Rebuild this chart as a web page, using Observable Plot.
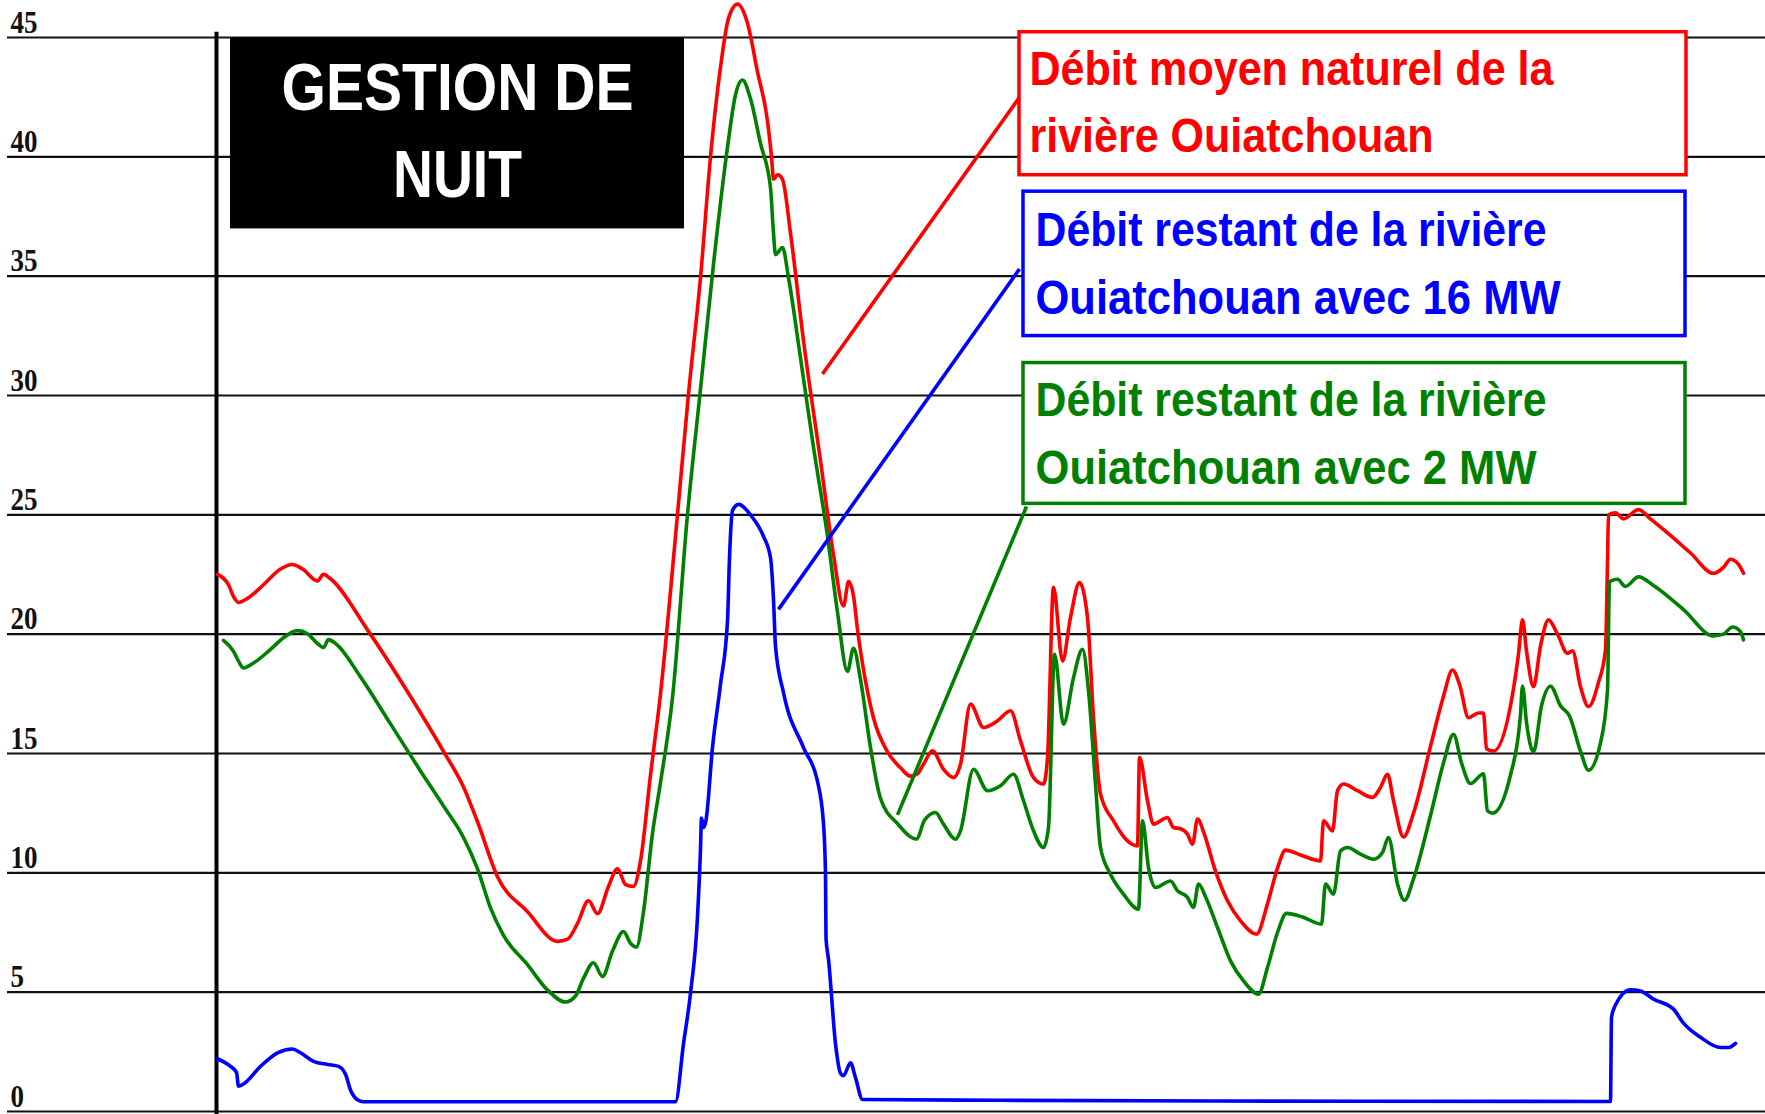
<!DOCTYPE html>
<html>
<head>
<meta charset="utf-8">
<script src="https://cdn.jsdelivr.net/npm/d3@7"></script>
<script src="https://cdn.jsdelivr.net/npm/@observablehq/plot@0.6"></script>
<style>
  html, body { margin: 0; padding: 0; background: #fff; }
  #chart svg { display: block; }
</style>
</head>
<body>
<div id="chart"></div>
<script>
// ---- Data (x: position along the period, arbitrary units; y: débit m³/s) ----
const tNaturel = [1,12,17,22,31,47,64,76,86,101,107,114,151,194,227,247,261,281,311,341,351,361,372,381,392,401,409,417,424,434,444,461,472,484,494,504,512,521,531,541,551,555,557,561,566,574,587,604,617,627,632,637,641,651,657,671,684,694,701,707,716,727,737,744,754,767,781,794,804,817,827,831,837,846,854,863,871,877,884,897,911,921,923,931,937,951,957,964,971,976,981,988,998,1011,1024,1040,1051,1061,1069,1084,1104,1107,1116,1121,1127,1141,1156,1164,1171,1177,1187,1197,1214,1227,1236,1243,1252,1262,1267,1270,1277,1294,1302,1306,1310,1317,1324,1332,1341,1351,1356,1364,1372,1382,1389,1391,1392,1399,1407,1422,1434,1451,1474,1497,1507,1514,1524,1527];
const debitNaturel = [22.5,22.07,21.57,21.33,21.5,22.07,22.73,22.92,22.73,22.23,22.51,22.32,20.18,17.39,15.09,13.6,12.14,9.84,8.37,7.13,7.22,7.88,8.83,8.29,9.43,10.17,9.51,9.43,10.5,14.1,17.5,25.02,30.07,34.94,40.0,43.75,45.8,46.4,45.6,43.56,41.5,40.0,39.06,39.25,39.06,36.8,32.3,27.27,23.33,21.18,22.2,21.6,20.2,17.6,16.49,15.07,14.4,14.05,14.15,14.55,15.11,14.34,13.99,14.55,17.07,16.09,16.37,16.79,15.53,13.99,13.72,14.83,21.96,18.88,20.7,22.16,20.7,16.51,13.3,12.18,11.34,11.13,14.83,13.02,12.04,12.32,11.9,11.85,11.62,11.2,12.25,11.6,10.2,8.83,7.99,7.43,8.7,10.2,10.95,10.75,10.5,12.18,11.76,13.44,13.72,13.44,13.16,13.58,14.13,13.02,11.5,12.5,15.3,17.4,18.5,17.9,16.5,16.7,16.7,15.2,15.1,17.0,19.17,20.6,19.3,17.8,19.5,20.6,20.0,19.2,19.3,17.8,16.97,17.98,19.34,23.06,25.0,25.08,24.83,25.22,24.83,24.24,23.4,22.55,22.8,23.14,22.8,22.55];

const t2MW = [7,17,22,27,37,54,67,81,91,101,107,112,119,144,174,204,227,247,261,274,287,311,331,349,359,367,377,386,396,407,414,420,427,436,444,456,471,484,497,511,519,526,534,544,554,557,559,566,572,584,597,611,621,631,637,644,654,664,681,700,708,719,727,739,744,757,771,784,797,807,817,827,832,838,847,857,866,872,879,884,894,907,922,926,932,939,954,961,971,977,982,989,1001,1014,1027,1042,1051,1061,1070,1086,1105,1109,1117,1124,1131,1144,1157,1166,1172,1181,1188,1197,1214,1227,1237,1245,1254,1267,1271,1276,1294,1304,1306,1310,1317,1325,1334,1344,1353,1364,1372,1384,1391,1393,1401,1409,1422,1437,1467,1497,1507,1516,1524,1527];
const debit2MW = [19.74,19.28,18.87,18.58,18.79,19.36,19.85,20.15,20.02,19.61,19.44,19.77,19.61,18.21,16.24,14.27,12.8,11.48,10.17,8.53,7.38,6.15,5.09,4.59,4.84,5.58,6.23,5.66,6.72,7.54,7.05,6.89,8.37,11.65,13.78,17.34,25.02,30.26,35.5,40.4,42.6,43.22,42.43,40.56,38.7,36.8,35.9,36.2,34.94,31.57,27.83,24.1,20.92,18.44,19.41,18.1,15.25,13.12,12.06,11.42,12.2,12.53,12.04,11.41,11.76,14.34,13.44,13.65,14.13,13.02,11.76,11.06,11.9,19.16,16.23,18.18,19.37,17.63,13.72,11.06,9.94,9.11,8.48,12.18,10.22,9.39,9.66,9.25,8.97,8.55,9.53,9.0,7.71,6.31,5.47,4.92,6.03,7.5,8.3,8.15,7.85,9.53,9.11,10.92,11.06,10.78,10.57,10.85,11.48,9.53,8.85,9.75,12.4,14.6,15.8,14.6,13.74,14.15,12.6,12.5,14.1,16.63,17.83,16.3,15.07,17.0,17.82,17.0,16.57,15.1,14.3,15.45,17.65,22.2,22.3,22.0,22.4,22.04,21.03,19.93,20.0,20.3,20.1,19.76];

const t16MW = [1,14,20,22,27,44,61,76,84,97,111,122,129,134,141,147,300,459,467,474,481,484,485,487,489.5,496,504,511,513,516,522,534,547,554,557,559,567,587,601,607,609,609.5,612,619,624,627,634,639,646,784,1000,1394,1395,1399,1414,1424,1437,1457,1467,1484,1504,1512,1519];
const debit16MW = [2.21,1.89,1.64,1.06,1.15,1.89,2.46,2.62,2.46,2.1,1.97,1.89,1.56,0.9,0.49,0.41,0.41,0.41,2.84,4.96,8.16,11.0,12.3,11.9,12.2,15.25,17.9,20.57,23.2,25.18,25.44,25.0,24.1,23.2,21.45,19.5,17.55,15.25,13.83,12.06,9.93,7.27,6.38,2.84,1.6,1.5,2.04,1.42,0.5,0.47,0.44,0.42,3.95,4.46,5.1,5.05,4.71,4.29,3.7,3.11,2.68,2.68,2.85];

const yTicks = [0, 5, 10, 15, 20, 25, 30, 35, 40, 45];
const titleLines = ["GESTION DE", "NUIT"];
const legendLines = [
  ["Débit moyen naturel de la", "rivière Ouiatchouan"],
  ["Débit restant de la rivière", "Ouiatchouan avec 16 MW"],
  ["Débit restant de la rivière", "Ouiatchouan avec 2 MW"]
];

// ---- Build tables ----
const naturel = tNaturel.map((t, i) => ({t, v: debitNaturel[i]}));
const mw2 = t2MW.map((t, i) => ({t, v: debit2MW[i]}));
const mw16 = t16MW.map((t, i) => ({t, v: debit16MW[i]}));

const RED = "#ff0000", GREEN = "#008000", BLUE = "#0000ff";

// annotation layout (in chart units)
const boxes = [
  {x1: 803, x2: 1470, y1: 39.23, y2: 45.22, color: RED},
  {x1: 807, x2: 1469, y1: 32.49, y2: 38.54, color: BLUE},
  {x1: 807, x2: 1469, y1: 25.46, y2: 31.36, color: GREEN}
];
const leaders = [
  {x1: 606, y1: 30.9, x2: 803, y2: 42.5, color: RED},
  {x1: 562, y1: 21.04, x2: 803, y2: 35.3, color: BLUE},
  {x1: 681, y1: 12.43, x2: 810, y2: 25.35, color: GREEN}
];
const legendText = [
  {x: 813, y: 43.03, text: legendLines[0][0], color: RED, len: 524},
  {x: 813, y: 40.21, text: legendLines[0][1], color: RED, len: 404},
  {x: 819, y: 36.26, text: legendLines[1][0], color: BLUE, len: 511},
  {x: 819, y: 33.41, text: legendLines[1][1], color: BLUE, len: 525},
  {x: 819, y: 29.16, text: legendLines[2][0], color: GREEN, len: 511},
  {x: 819, y: 26.31, text: legendLines[2][1], color: GREEN, len: 501}
];
const titleText = [
  {x: 241, y: 41.97, text: titleLines[0], len: 352},
  {x: 241, y: 38.3, text: titleLines[1], len: 129}
];

const lineOpts = {x: "t", y: "v", strokeWidth: 3.6, curve: "monotone-x", strokeLinejoin: "round", strokeLinecap: "round"};

const chart = Plot.plot({
  width: 1765,
  height: 1114,
  marginLeft: 0,
  marginRight: 0,
  marginTop: 37,
  marginBottom: 3,
  x: {domain: [-216, 1549], axis: null},
  y: {domain: [0, 45], axis: null},
  style: {background: "#fff", overflow: "visible"},
  marks: [
    Plot.ruleY(yTicks, {x1: -209, x2: 1549, stroke: "#111", strokeWidth: 2.2}),
    Plot.ruleX([0], {y1: -0.2, y2: 45.22, stroke: "#000", strokeWidth: 4}),
    Plot.text(yTicks, {x: -206, y: d => d, text: d => String(d), textAnchor: "start", lineAnchor: "bottom", dy: -5,
      fontFamily: "Liberation Serif", fontWeight: "bold", fontSize: 32, fill: "#111"}),
    Plot.line(naturel, {...lineOpts, stroke: RED}),
    Plot.line(mw2, {...lineOpts, stroke: GREEN}),
    Plot.line(mw16, {...lineOpts, stroke: BLUE}),
    Plot.link([leaders[0]], {x1: "x1", y1: "y1", x2: "x2", y2: "y2", stroke: RED, strokeWidth: 3.6}),
    Plot.link([leaders[1]], {x1: "x1", y1: "y1", x2: "x2", y2: "y2", stroke: BLUE, strokeWidth: 3.6}),
    Plot.link([leaders[2]], {x1: "x1", y1: "y1", x2: "x2", y2: "y2", stroke: GREEN, strokeWidth: 3.6}),
    Plot.rect([{x1: 14, x2: 468, y1: 36.98, y2: 44.98}], {x1: "x1", x2: "x2", y1: "y1", y2: "y2", fill: "#000"}),
    Plot.rect([boxes[0]], {x1: "x1", x2: "x2", y1: "y1", y2: "y2", fill: "#fff", stroke: RED, strokeWidth: 3.5}),
    Plot.rect([boxes[1]], {x1: "x1", x2: "x2", y1: "y1", y2: "y2", fill: "#fff", stroke: BLUE, strokeWidth: 3.5}),
    Plot.rect([boxes[2]], {x1: "x1", x2: "x2", y1: "y1", y2: "y2", fill: "#fff", stroke: GREEN, strokeWidth: 3.5}),
    Plot.text(legendText.filter(d => d.color === RED), {x: "x", y: "y", text: "text", fill: RED, textAnchor: "start", lineAnchor: "bottom",
      fontFamily: "Liberation Sans", fontWeight: "bold", fontSize: 49}),
    Plot.text(legendText.filter(d => d.color === BLUE), {x: "x", y: "y", text: "text", fill: BLUE, textAnchor: "start", lineAnchor: "bottom",
      fontFamily: "Liberation Sans", fontWeight: "bold", fontSize: 49}),
    Plot.text(legendText.filter(d => d.color === GREEN), {x: "x", y: "y", text: "text", fill: GREEN, textAnchor: "start", lineAnchor: "bottom",
      fontFamily: "Liberation Sans", fontWeight: "bold", fontSize: 49}),
    Plot.text(titleText, {x: "x", y: "y", text: "text", fill: "#fff", textAnchor: "middle", lineAnchor: "bottom",
      fontFamily: "Liberation Sans", fontWeight: "bold", fontSize: 66})
  ]
});

// horizontal compression of the narrow lettering
const lengths = new Map();
legendText.forEach(d => lengths.set(d.text, d.len));
titleText.forEach(d => lengths.set(d.text, d.len));
yTicks.forEach(d => lengths.set(String(d), String(d).length * 13.5));
chart.querySelectorAll("text").forEach(el => {
  const s = el.textContent;
  if (lengths.has(s)) {
    el.setAttribute("textLength", lengths.get(s));
    el.setAttribute("lengthAdjust", "spacingAndGlyphs");
  }
});

document.getElementById("chart").append(chart);
</script>
</body>
</html>
